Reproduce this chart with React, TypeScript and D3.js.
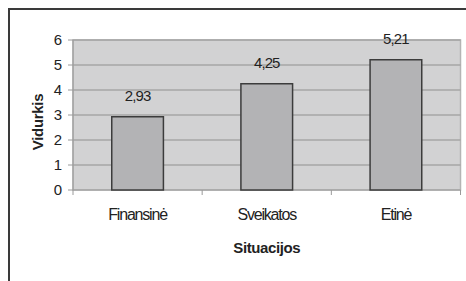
import { useRef, useEffect } from "react";
import * as d3 from "d3";

const categories = ["Finansinė", "Sveikatos", "Etinė"];
const values = [2.93, 4.25, 5.21];
const valueLabels = ["2,93", "4,25", "5,21"];
const yTicks = [0, 1, 2, 3, 4, 5, 6];

export default function App() {
  const svgRef = useRef<SVGSVGElement>(null);

  useEffect(() => {
    if (!svgRef.current) return;
    const svg = d3.select(svgRef.current);
    svg.selectAll("*").remove();

    const width = 466;
    const height = 281;
    const margin = { top: 40, right: 5.5, bottom: 91, left: 73 };
    const innerW = width - margin.left - margin.right;
    const innerH = height - margin.top - margin.bottom;
    const font = "'Liberation Sans', Arial, sans-serif";

    // outer chart frame
    svg
      .append("rect")
      .attr("x", 9)
      .attr("y", 9)
      .attr("width", width + 10)
      .attr("height", height + 10)
      .attr("fill", "#fff")
      .attr("stroke", "#3a3a3a")
      .attr("stroke-width", 2);

    const g = svg
      .append("g")
      .attr("transform", `translate(${margin.left},${margin.top})`);

    const x = d3
      .scaleBand<string>()
      .domain(categories)
      .range([0, innerW])
      .paddingInner(0.6)
      .paddingOuter(0.3);

    const y = d3.scaleLinear().domain([0, 6]).range([innerH, 0]);

    // plot area
    g.append("rect")
      .attr("width", innerW)
      .attr("height", innerH)
      .attr("fill", "#d2d2d3")
      .attr("stroke", "#b4b4b4")
      .attr("stroke-width", 1.5);

    // gridlines
    g.selectAll(".grid")
      .data(yTicks.filter((t) => t > 0))
      .enter()
      .append("line")
      .attr("x1", 0)
      .attr("x2", innerW)
      .attr("y1", (d) => y(d))
      .attr("y2", (d) => y(d))
      .attr("stroke", "#a6a6a6")
      .attr("stroke-width", 1.5);

    // y axis
    g.append("line")
      .attr("x1", 0)
      .attr("x2", 0)
      .attr("y1", 0)
      .attr("y2", innerH)
      .attr("stroke", "#9a9a9a")
      .attr("stroke-width", 1);

    g.selectAll(".ytick")
      .data(yTicks)
      .enter()
      .append("line")
      .attr("x1", -5)
      .attr("x2", 0)
      .attr("y1", (d) => y(d))
      .attr("y2", (d) => y(d))
      .attr("stroke", "#9a9a9a");

    g.selectAll(".ylabel")
      .data(yTicks)
      .enter()
      .append("text")
      .attr("x", -11)
      .attr("y", (d) => y(d))
      .attr("dy", "0.36em")
      .attr("text-anchor", "end")
      .attr("font-family", font)
      .attr("font-size", 15)
      .attr("fill", "#222")
      .text((d) => d);

    // x axis
    g.append("line")
      .attr("x1", 0)
      .attr("x2", innerW)
      .attr("y1", innerH)
      .attr("y2", innerH)
      .attr("stroke", "#9a9a9a");

    const step = x.step();
    g.selectAll(".xtick")
      .data(d3.range(categories.length + 1))
      .enter()
      .append("line")
      .attr("x1", (i) => i * step)
      .attr("x2", (i) => i * step)
      .attr("y1", innerH)
      .attr("y2", innerH + 5)
      .attr("stroke", "#9a9a9a");

    // bars
    g.selectAll(".bar")
      .data(values)
      .enter()
      .append("rect")
      .attr("x", (_, i) => x(categories[i])!)
      .attr("y", (d) => y(d))
      .attr("width", x.bandwidth())
      .attr("height", (d) => innerH - y(d))
      .attr("fill", "#b3b3b5")
      .attr("stroke", "#3c3c3c")
      .attr("stroke-width", 1.5);

    // value labels
    g.selectAll(".val")
      .data(values)
      .enter()
      .append("text")
      .attr("x", (_, i) => x(categories[i])! + x.bandwidth() / 2)
      .attr("y", (d) => y(d) - 16)
      .attr("text-anchor", "middle")
      .attr("font-family", font)
      .attr("font-size", 15)
      .attr("letter-spacing", -0.9)
      .attr("fill", "#222")
      .text((_, i) => valueLabels[i]);

    // category labels
    g.selectAll(".cat")
      .data(categories)
      .enter()
      .append("text")
      .attr("x", (d) => x(d)! + x.bandwidth() / 2)
      .attr("y", innerH + 30)
      .attr("text-anchor", "middle")
      .attr("font-family", font)
      .attr("font-size", 16)
      .attr("letter-spacing", -1.2)
      .attr("fill", "#222")
      .text((d) => d);

    // axis titles
    g.append("text")
      .attr("x", innerW / 2)
      .attr("y", innerH + 63)
      .attr("text-anchor", "middle")
      .attr("font-family", font)
      .attr("font-size", 15)
      .attr("font-weight", "bold")
      .attr("letter-spacing", -0.4)
      .attr("fill", "#222")
      .text("Situacijos");

    g.append("text")
      .attr("transform", `translate(${-35},${innerH / 2 + 7}) rotate(-90)`)
      .attr("text-anchor", "middle")
      .attr("dy", "0.36em")
      .attr("font-family", font)
      .attr("font-size", 15)
      .attr("font-weight", "bold")
      .attr("letter-spacing", -0.3)
      .attr("fill", "#222")
      .text("Vidurkis");
  }, []);

  return (
    <svg
      ref={svgRef}
      width={466}
      height={281}
      style={{ position: "absolute", left: 0, top: 0, display: "block" }}
    />
  );
}
